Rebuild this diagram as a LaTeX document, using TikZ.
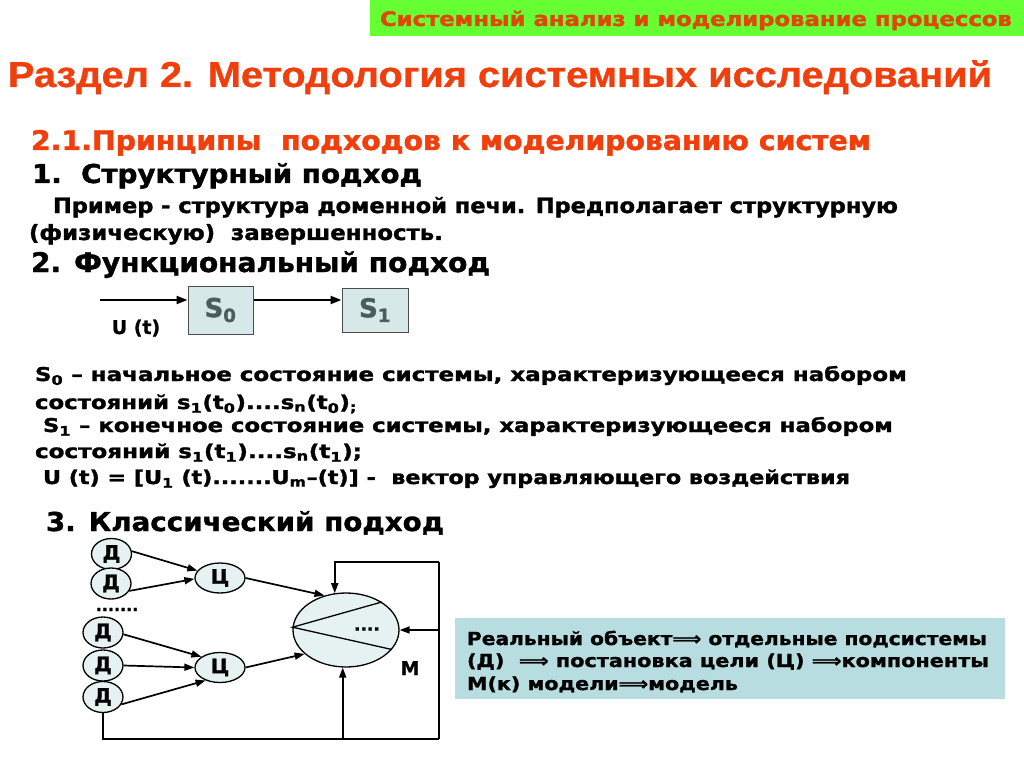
\documentclass[tikz,border=0pt]{standalone}
\usepackage{fontspec}
\usepackage{graphicx}
\setmainfont{DejaVu Sans}[BoldFeatures={FakeBold=1.2}]
\newfontfamily\dvc{DejaVuSansCondensed}[Extension=.ttf,BoldFont=DejaVuSansCondensed-Bold,BoldFeatures={FakeBold=1.3}]
\newfontfamily\libsans{Liberation Sans}[BoldFeatures={FakeBold=0.8}]
\usetikzlibrary{shapes.geometric,arrows.meta}
\definecolor{banner}{RGB}{102,255,51}
\definecolor{bantext}{RGB}{222,72,8}
\definecolor{titlered}{RGB}{240,62,12}
\definecolor{sbox}{RGB}{214,232,232}
\definecolor{stext}{RGB}{74,92,92}
\definecolor{ellfill}{RGB}{230,242,242}
\definecolor{notebox}{RGB}{184,221,224}
\newcommand\fw[2]{\resizebox{#1pt}{\height}{#2}}
\newcommand\fs[1]{\fontsize{#1}{#1}\selectfont\bfseries}
\begin{document}
\begin{tikzpicture}[x=1pt,y=-1pt,
  txt/.style={anchor=base west,inner sep=0pt,outer sep=0pt},
  arr/.style={-{Triangle[length=10pt,width=7pt]},line width=1.7pt},
  sarr/.style={-{Triangle[length=11pt,width=8pt]},line width=2.2pt},
  ln/.style={line width=1.7pt},
  dn/.style={ellipse,draw,line width=1.3pt,fill=ellfill,minimum width=40pt,minimum height=31pt,inner sep=0pt,font=\fs{20}},
  cn/.style={ellipse,draw,line width=1.3pt,fill=ellfill,minimum width=50pt,minimum height=30pt,inner sep=0pt,font=\fs{20}},
  statebox/.style={draw=black!70,line width=1pt,fill=sbox,inner sep=0pt,text=stext,font=\fs{26}}]
\useasboundingbox (0,0) rectangle (1024,767);
\fill[white] (0,0) rectangle (1024,767);
% banner
\fill[banner] (370,0) rectangle (1024,36);
\node[txt,text=bantext] (ban) at (380,26) {\fw{632}{\dvc\fs{20}Системный анализ и моделирование процессов}};
% headings
\node[txt,text=titlered] (title) at (8,87) {\fw{984}{\libsans\fs{36}Раздел 2. Методология системных исследований}};
\node[txt,text=titlered] (sec) at (31,150) {\fw{840}{\dvc\fs{27}2.1.Принципы\ \ подходов к моделированию систем}};
\node[txt] (h1) at (32,183) {\fw{390}{\dvc\fs{26}1.\ \ Структурный подход}};
\node[txt] (p1) at (53,213) {\fw{845}{\dvc\fs{21}Пример - структура доменной печи. Предполагает структурную}};
\node[txt] (p2) at (29,240) {\fw{414}{\dvc\fs{21}(физическую)\ \ завершенность.}};
\node[txt] (h2) at (31,272) {\fw{459}{\dvc\fs{27}2. Функциональный подход}};
% functional diagram
\node[statebox,minimum width=65pt,minimum height=48pt] (s0) at (220.5,310) {S\textsubscript{0}};
\node[statebox,minimum width=66pt,minimum height=44pt] (s1) at (375,310) {S\textsubscript{1}};
\coordinate (u) at (100,300);
\draw[sarr] (u) -- (u -| s0.west);
\draw[sarr] (s0.east |- u) -- (s1.west |- u);
\node[anchor=base,inner sep=0pt] (ul) at (136,334) {\fs{19}U (t)};
% text block
\node[txt] (t1) at (35,381) {\fw{872}{\dvc\fs{19}S\textsubscript{0} – начальное состояние системы, характеризующееся набором}};
\node[txt] (t2) at (35,409) {\fw{322}{\dvc\fs{19}состояний s\textsubscript{1}(t\textsubscript{0})....s\textsubscript{n}(t\textsubscript{0})\textsubscript{;}}};
\node[txt] (t3) at (43,432) {\fw{850}{\dvc\fs{19}S\textsubscript{1} – конечное состояние системы, характеризующееся набором}};
\node[txt] (t4) at (35,458) {\fw{327}{\dvc\fs{19}состояний s\textsubscript{1}(t\textsubscript{1})....s\textsubscript{n}(t\textsubscript{1});}};
\node[txt] (t5) at (43,484) {\fw{807}{\dvc\fs{19}U (t) = [U\textsubscript{1} (t).......U\textsubscript{m}–(t)] -\ \ вектор управляющего воздействия}};
\node[txt] (h3) at (46,531) {\fw{398}{\fs{26}3. Классический подход}};
% classical diagram
\node[dn] (d1) at (111.5,554) {Д};
\node[dn] (d2) at (111,583.5) {Д};
\node[anchor=base,inner sep=0pt] (dots) at (117,611) {\fs{16}.......};
\node[dn] (d3) at (103,632.5) {Д};
\node[dn] (d4) at (103,665.5) {Д};
\node[dn] (d5) at (103,697) {Д};
\node[cn] (c1) at (220,578) {Ц};
\node[cn] (c2) at (220,667.5) {Ц};
\node[ellipse,draw,line width=1.3pt,fill=ellfill,minimum width=106pt,minimum height=74pt,inner sep=0pt] (m) at (346,630) {};
\draw[line width=1.3pt] (m.38) -- (m.177) -- (m.-23);
\node[inner sep=0pt] (mdots) at (367,629) {\fs{17}....};
\node[anchor=base,inner sep=0pt] (ml) at (410,675) {\fs{19}М};
\draw[arr] (d1.8) -- (c1.162);
\draw[arr] (d2.-22) -- (c1.182);
\draw[arr] (d3.-5) -- (c2.150);
\draw[arr] (d4.east) -- (c2.west);
\draw[arr] (d5.-22) -- (c2.222);
\draw[arr] (c1.east) -- (m.122);
\draw[arr] (c2.east) -- (m.210);
\coordinate (tr) at (439,562);
\coordinate (br) at (439,739);
\draw[ln] (tr) -- (br);
\draw[arr] (tr) -| (m.107);
\draw[arr] (tr |- m.east) -- (m.east);
\draw[ln] (d5.south) |- (br);
\draw[arr] (m.265 |- br) -- (m.265);
% note box
\fill[notebox] (455,618) rectangle (1005,699);
\node[txt] (n1) at (467,645) {\fw{520}{\fs{18}Реальный объект⟹ отдельные подсистемы}};
\node[txt] (n2) at (467,667) {\fw{522}{\fs{18}(Д)\ \ ⟹ постановка цели (Ц) ⟹компоненты}};
\node[txt] (n3) at (467,690) {\fw{271}{\fs{18}М(к) модели⟹модель}};
\end{tikzpicture}
\end{document}
